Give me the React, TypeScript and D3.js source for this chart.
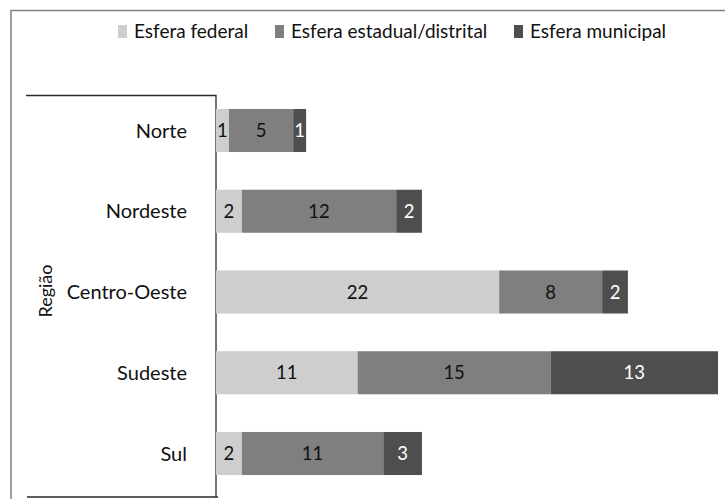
import React, { useRef, useEffect } from 'react';
import * as d3 from 'd3';

const regions = ['Norte', 'Nordeste', 'Centro-Oeste', 'Sudeste', 'Sul'];
const seriesNames = ['Esfera federal', 'Esfera estadual/distrital', 'Esfera municipal'];
const federal = [1, 2, 22, 11, 2];
const estadual = [5, 12, 8, 15, 11];
const municipal = [1, 2, 2, 13, 3];
const colors = ['#cecece', '#7f7f7f', '#4e4e4e'];
const textColors = ['#111', '#111', '#fff'];

const App: React.FC = () => {
    const svgRef = useRef<SVGSVGElement | null>(null);

    useEffect(() => {
        if (!svgRef.current) return;
        const width = 725;
        const height = 499;
        const font = 'Lato, sans-serif';

        const svg = d3.select(svgRef.current);
        svg.selectAll('*').remove();

        const rows = regions.map((r, i) => ({ region: r, f: federal[i], e: estadual[i], m: municipal[i] }));
        const stack = d3.stack<any>().keys(['f', 'e', 'm']);
        const series = stack(rows);

        const x = d3.scaleLinear().domain([0, 39]).range([216, 718]);
        const y = d3.scaleBand().domain(regions).range([90, 494])
            .paddingInner(0.467).paddingOuter(0.235);

        // outer frame (cut off on the right and bottom)
        svg.append('rect')
            .attr('x', 11).attr('y', 10.5)
            .attr('width', width + 20).attr('height', height + 20)
            .attr('fill', 'none').attr('stroke', '#808080').attr('stroke-width', 1.5);

        // axis box
        svg.append('path')
            .attr('d', 'M26,95.5H216V497M27,497H218')
            .attr('fill', 'none').attr('stroke', '#2a2a2a').attr('stroke-width', 1.3);

        const g = svg.append('g');
        series.forEach((s, si) => {
            const grp = g.append('g');
            grp.selectAll('rect')
                .data(s)
                .join('rect')
                .attr('x', d => x(d[0]))
                .attr('y', d => y(d.data.region)!)
                .attr('width', d => x(d[1]) - x(d[0]))
                .attr('height', y.bandwidth())
                .attr('fill', colors[si]);
            grp.selectAll('text')
                .data(s)
                .join('text')
                .attr('x', d => (x(d[0]) + x(d[1])) / 2)
                .attr('y', d => y(d.data.region)! + y.bandwidth() / 2)
                .attr('dy', '0.36em')
                .attr('text-anchor', 'middle')
                .attr('font-family', font)
                .attr('font-size', 18.5)
                .attr('fill', textColors[si])
                .text(d => d[1] - d[0]);
        });

        // category labels
        svg.append('g').selectAll('text')
            .data(regions)
            .join('text')
            .attr('x', 187)
            .attr('y', d => y(d)! + y.bandwidth() / 2)
            .attr('dy', '0.36em')
            .attr('text-anchor', 'end')
            .attr('font-family', font)
            .attr('font-size', 20)
            .attr('fill', '#111')
            .text(d => d);

        svg.append('text')
            .attr('transform', 'translate(52,291) rotate(-90)')
            .attr('text-anchor', 'middle')
            .attr('font-family', font)
            .attr('font-size', 18)
            .attr('fill', '#111')
            .text('Região');

        // legend
        const legendX = [118, 275, 514];
        const legend = svg.append('g').selectAll('g')
            .data(seriesNames)
            .join('g')
            .attr('transform', (d, i) => `translate(${legendX[i]},25)`);
        legend.append('rect')
            .attr('width', 9).attr('height', 13)
            .attr('fill', (d, i) => colors[i]);
        legend.append('text')
            .attr('x', 16).attr('y', 13)
            .attr('font-family', font)
            .attr('font-size', 19)
            .attr('fill', '#111')
            .text(d => d);
    }, []);

    return <svg ref={svgRef} width={725} height={499} style={{ position: 'absolute', left: 0, top: 0 }} />;
};

export default App;
